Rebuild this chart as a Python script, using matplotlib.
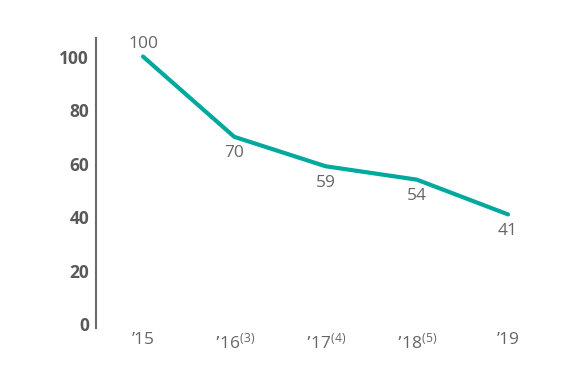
import matplotlib
matplotlib.use("Agg")
import matplotlib.pyplot as plt

plt.rcParams['font.family'] = ['Open Sans', 'DejaVu Sans']
plt.rcParams['mathtext.default'] = 'regular'

years = ["\u201915", "\u201916$^{(3)}$", "\u201917$^{(4)}$", "\u201918$^{(5)}$", "\u201919"]
values = [100, 70, 59, 54, 41]
y_ticks = [0, 20, 40, 60, 80, 100]

teal = "#00A99D"
gray = "#595959"

fig = plt.figure(figsize=(5.75, 3.82), dpi=100)
ax = fig.add_axes([0.167, 0.141, 0.807, 0.76])

x = list(range(len(values)))
ax.plot(x, values, color=teal, lw=3.0, solid_capstyle='round', solid_joinstyle='round')

for i, v in enumerate(values):
    dy = 9 if i == 0 else -12
    ax.annotate(str(v), (i, v), xytext=(0, dy), textcoords='offset points',
                ha='center', va='center', fontsize=12.5, color='#666666')

ax.set_xlim(-0.515, 4.57)
ax.set_ylim(-1.5, 107)
ax.set_yticks(y_ticks)
ax.set_yticklabels([str(t) for t in y_ticks], fontweight='bold', fontsize=12.5, color=gray)
ax.set_xticks(x)
ax.set_xticklabels(years, fontsize=12.5, color='#666666')
ax.tick_params(axis='both', length=0)
ax.tick_params(axis='y', pad=5)
ax.tick_params(axis='x', pad=3)

for s in ['top', 'right', 'bottom']:
    ax.spines[s].set_visible(False)
ax.spines['left'].set_color('#6b6b6b')
ax.spines['left'].set_linewidth(1.5)

fig.savefig("out.png", dpi=100)
